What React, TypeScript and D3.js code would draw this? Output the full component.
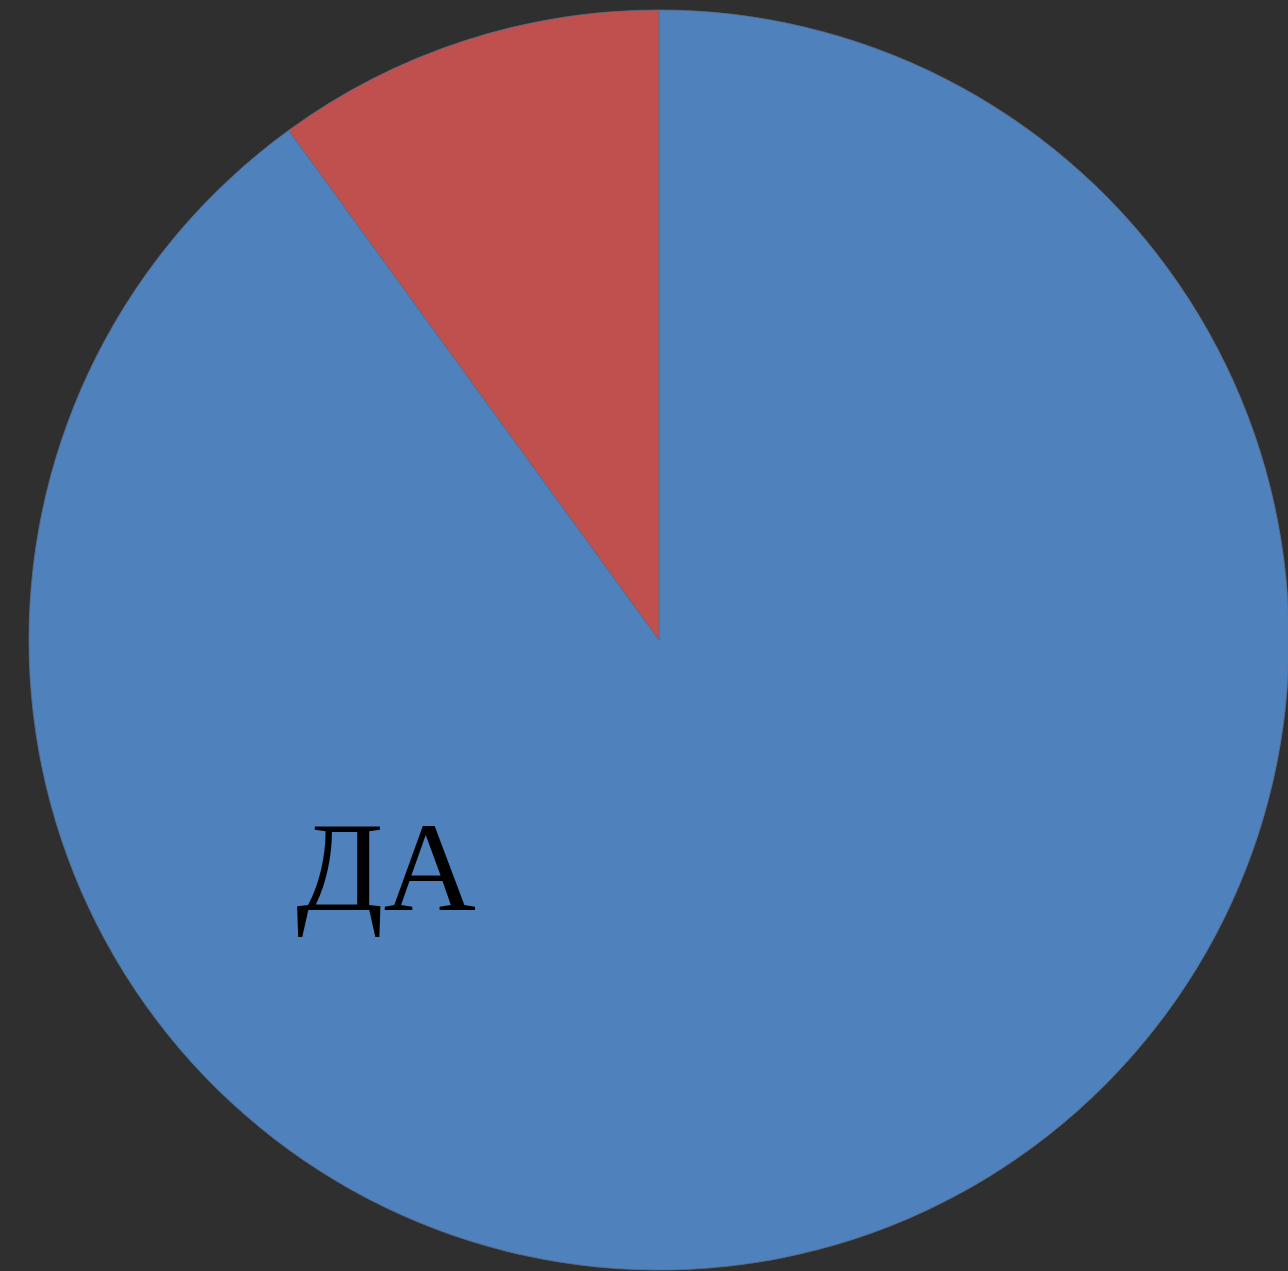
import * as d3 from "d3";
import React from "react";

const categories = ["ДА", "НЕТ"];
const values = [90, 10];
const colors = ["#4f81bd", "#c0504d"];
const shownLabels = ["ДА"];

const WIDTH = 1288;
const HEIGHT = 1271;

const App: React.FC = () => {
  const cx = 659;
  const cy = 640;
  const radius = 630;

  const data = categories.map((c, i) => ({ name: c, value: values[i], color: colors[i] }));

  const pie = d3
    .pie<{ name: string; value: number; color: string }>()
    .sort(null)
    .value((d) => d.value);

  const arc = d3
    .arc<d3.PieArcDatum<{ name: string; value: number; color: string }>>()
    .innerRadius(0)
    .outerRadius(radius);

  const arcs = pie(data);

  return (
    <svg
      width={WIDTH}
      height={HEIGHT}
      style={{ position: "absolute", left: 0, top: 0, background: "#2f2f2f" }}
    >
      <rect width={WIDTH} height={HEIGHT} fill="#2f2f2f" />
      <g transform={`translate(${cx},${cy})`}>
        {arcs.map((a) => (
          <path
            key={a.data.name}
            d={arc(a) || ""}
            fill={a.data.color}
            stroke="#5a6f8a"
            strokeWidth={0.8}
          />
        ))}
        {arcs
          .filter((a) => shownLabels.includes(a.data.name))
          .map((a) => (
            // label sits lower-left of the slice, as placed in the original
            <text
              key={a.data.name}
              x={-273}
              y={270}
              textAnchor="middle"
              fill="#000"
              style={{ fontFamily: "'Liberation Serif', 'Times New Roman', serif", fontSize: 128 }}
            >
              {a.data.name}
            </text>
          ))}
      </g>
    </svg>
  );
};

export default App;
